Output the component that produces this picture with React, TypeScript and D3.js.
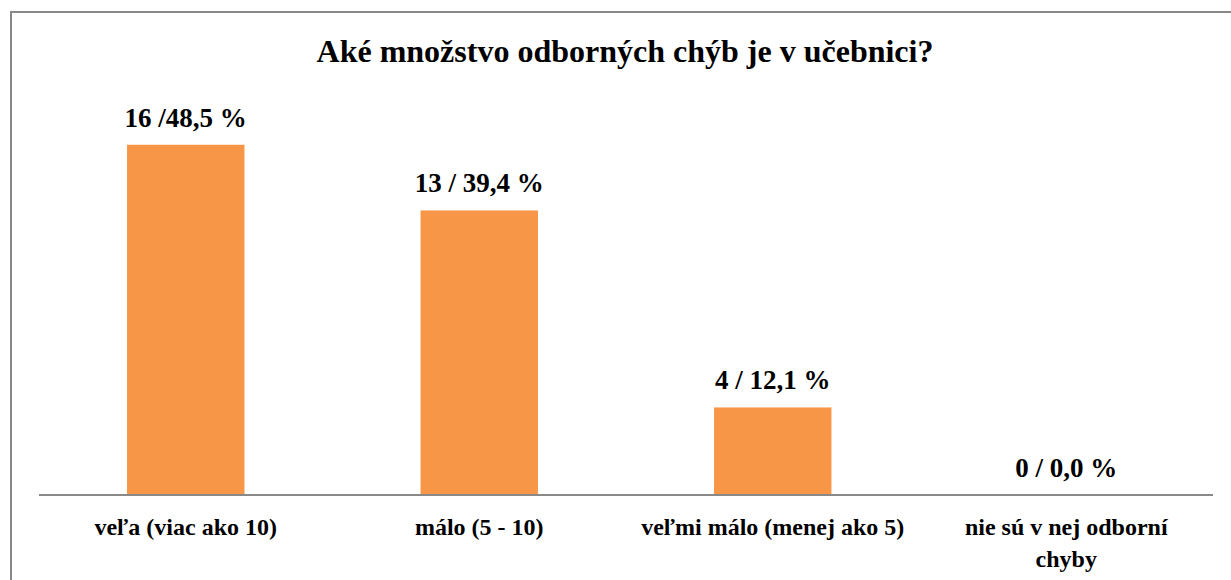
import React, { useEffect, useRef } from 'react'
import * as d3 from 'd3'

const title = 'Aké množstvo odborných chýb je v učebnici?'
const categories = [
  ['veľa (viac ako 10)'],
  ['málo (5 - 10)'],
  ['veľmi málo (menej ako 5)'],
  ['nie sú v nej odborní', 'chyby']
]
const counts = [16, 13, 4, 0]
const valueLabels = ['16 /48,5 %', '13 / 39,4 %', '4 / 12,1 %', '0 / 0,0 %']

const W = 1231
const H = 580
const plot = { left: 39, right: 1213, top: 101, bottom: 495 }
const font = 'Liberation Serif'

const App = () => {
  const ref = useRef<SVGSVGElement | null>(null)

  useEffect(() => {
    const svg = d3.select(ref.current)
    svg.selectAll('*').remove()

    // chart frame (runs off the right and bottom edge)
    svg
      .append('rect')
      .attr('x', 11)
      .attr('y', 12)
      .attr('width', W + 20)
      .attr('height', H + 20)
      .attr('fill', '#fff')
      .attr('stroke', '#898989')
      .attr('stroke-width', 2)

    svg
      .append('text')
      .attr('x', 625)
      .attr('y', 62)
      .attr('text-anchor', 'middle')
      .attr('font-family', font)
      .attr('font-weight', 'bold')
      .attr('font-size', 32)
      .text(title)

    var x = d3
      .scaleBand()
      .domain(categories.map((c, i) => String(i)))
      .range([plot.left, plot.right])
      .paddingInner(0.6)
      .paddingOuter(0.3)

    var y = d3.scaleLinear().domain([0, 18]).range([plot.bottom, plot.top])

    svg
      .append('g')
      .selectAll('rect')
      .data(counts)
      .enter()
      .append('rect')
      .attr('x', (d, i) => x(String(i)))
      .attr('y', d => y(d))
      .attr('width', x.bandwidth())
      .attr('height', d => y(0) - y(d))
      .attr('fill', '#F79646')

    svg
      .append('line')
      .attr('x1', plot.left)
      .attr('x2', plot.right)
      .attr('y1', y(0))
      .attr('y2', y(0))
      .attr('stroke', '#898989')
      .attr('stroke-width', 2)

    svg
      .append('g')
      .selectAll('text')
      .data(counts)
      .enter()
      .append('text')
      .attr('x', (d, i) => x(String(i)) + x.bandwidth() / 2)
      .attr('y', d => y(d) - 18)
      .attr('text-anchor', 'middle')
      .attr('font-family', font)
      .attr('font-weight', 'bold')
      .attr('font-size', 27)
      .text((d, i) => valueLabels[i])

    var cat = svg
      .append('g')
      .selectAll('text')
      .data(categories)
      .enter()
      .append('text')
      .attr('x', (d, i) => x(String(i)) + x.bandwidth() / 2)
      .attr('y', y(0) + 40)
      .attr('text-anchor', 'middle')
      .attr('font-family', font)
      .attr('font-weight', 'bold')
      .attr('font-size', 24)

    cat
      .selectAll('tspan')
      .data(d => d)
      .enter()
      .append('tspan')
      .attr('x', function () {
        return (this.parentNode as SVGTextElement).getAttribute('x')
      })
      .attr('dy', (d, i) => (i === 0 ? 0 : 32))
      .text(d => d)
  }, [])

  return (
    <svg
      ref={ref}
      width={W}
      height={H}
      style={{ position: 'absolute', left: 0, top: 0, background: '#fff' }}
    />
  )
}

export default App
